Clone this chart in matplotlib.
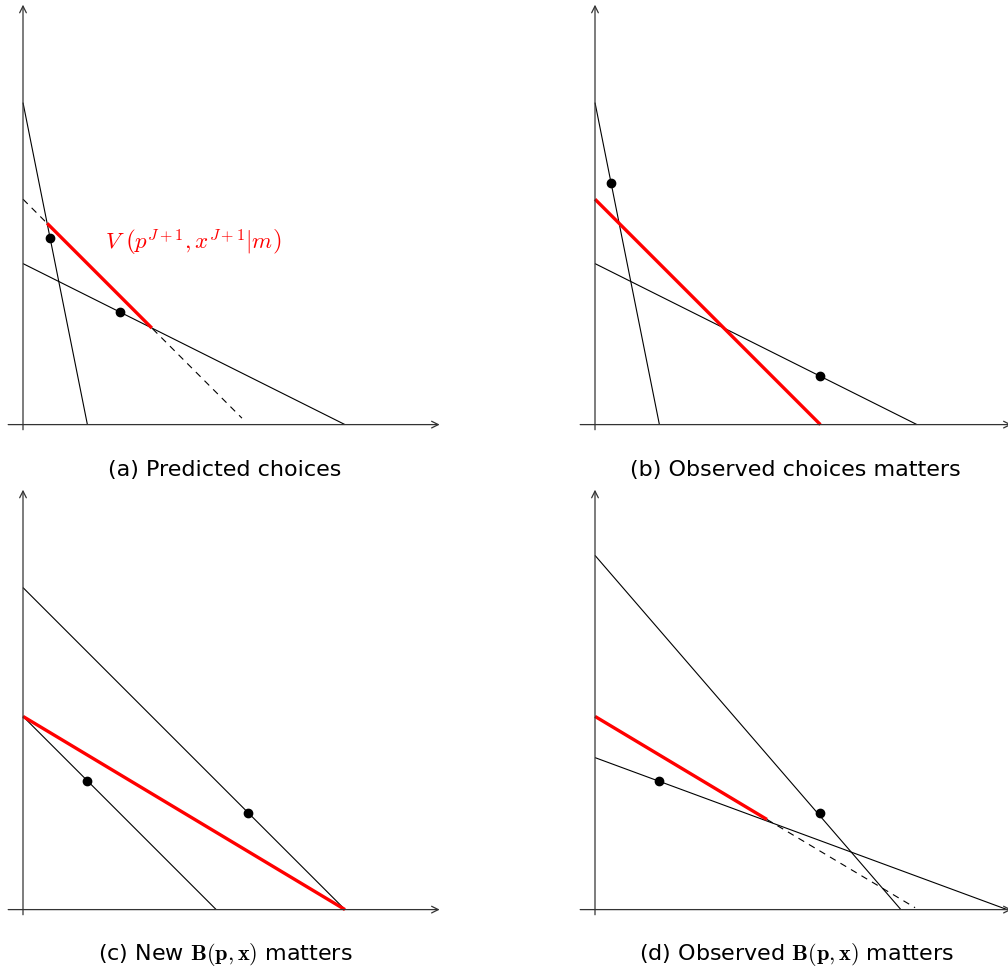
import matplotlib
matplotlib.use("Agg")
import matplotlib.pyplot as plt

plt.rcParams["mathtext.fontset"] = "cm"
plt.rcParams["font.family"] = ["DejaVu Sans"]

# Budget lines given by their intercepts (x-intercept, y-intercept)
a_lines = [(1.0, 5.0), (5.0, 2.5)]
a_points_x = [0.42, 1.5]
a_points_y = [2.9, 1.75]
a_red = [(0.375, 3.125), (2.0, 1.5)]
a_dashed = [(0.0, 3.5), (3.4, 0.1)]

b_lines = [(1.0, 5.0), (5.0, 2.5)]
b_points_x = [0.25, 3.5]
b_points_y = [3.75, 0.75]
b_red = [(0.0, 3.5), (3.5, 0.0)]

c_lines = [(5.0, 5.0), (3.0, 3.0)]
c_points_x = [1.0, 3.5]
c_points_y = [2.0, 1.5]
c_red = [(0.0, 3.0), (5.0, 0.0)]

d_lines = [(4.75, 5.5), (6.4, 2.36)]
d_points_x = [1.0, 3.5]
d_points_y = [2.0, 1.5]
d_red = [(0.0, 3.0), (2.67, 1.4)]
d_dashed = [(2.67, 1.4), (4.97, 0.03)]

captions = [
    "(a) Predicted choices",
    "(b) Observed choices matters",
    r"(c) New $\mathbf{B}(\mathbf{p},\mathbf{x})$ matters",
    r"(d) Observed $\mathbf{B}(\mathbf{p},\mathbf{x})$ matters",
]
value_label = r"$V\ \left(p^{J+1},x^{J+1}|m\right)$"

W, H = 1008, 978
SCALE = 64.4
LO, HI = -0.4, 6.6

fig = plt.figure(figsize=(W / 100, H / 100), dpi=100)


def make_axes(ox, oy):
    left = ox + LO * SCALE
    bottom = (H - oy) + LO * SCALE
    size = (HI - LO) * SCALE
    ax = fig.add_axes([left / W, bottom / H, size / W, size / H])
    ax.set_xlim(LO, HI)
    ax.set_ylim(LO, HI)
    ax.axis("off")
    arrow = dict(arrowstyle="->", color="#333333", lw=0.9, shrinkA=0, shrinkB=0,
                 mutation_scale=12)
    ax.annotate("", xy=(6.47, 0), xytext=(-0.23, 0), arrowprops=arrow)
    ax.annotate("", xy=(0, 6.52), xytext=(0, -0.08), arrowprops=arrow)
    return ax


def draw(ax, lines, px, py, red, dashed=None):
    for xi, yi in lines:
        ax.plot([0, xi], [yi, 0], color="black", lw=0.8, solid_capstyle="butt")
    if dashed is not None:
        ax.plot([dashed[0][0], dashed[1][0]], [dashed[0][1], dashed[1][1]],
                color="black", lw=0.8, ls=(0, (6, 5)))
    ax.plot([red[0][0], red[1][0]], [red[0][1], red[1][1]], color="red",
            lw=2.4, solid_capstyle="butt")
    ax.plot(px, py, "o", color="black", ms=6, zorder=5)


ax_a = make_axes(23, 425.6)
draw(ax_a, a_lines, a_points_x, a_points_y, a_red, a_dashed)
ax_a.text(1.27, 2.83, value_label, color="red", fontsize=16.5, va="center", ha="left")

ax_b = make_axes(595, 425.6)
draw(ax_b, b_lines, b_points_x, b_points_y, b_red)

ax_c = make_axes(23, 910.6)
draw(ax_c, c_lines, c_points_x, c_points_y, c_red)

ax_d = make_axes(595, 910.6)
draw(ax_d, d_lines, d_points_x, d_points_y, d_red, d_dashed)

for (cx, cy), text in zip([(225, 470), (795, 470), (225, 955), (796, 955)], captions):
    fig.text(cx / W, 1 - cy / H, text, ha="center", va="center", fontsize=16)

fig.savefig("out.png", dpi=100)
